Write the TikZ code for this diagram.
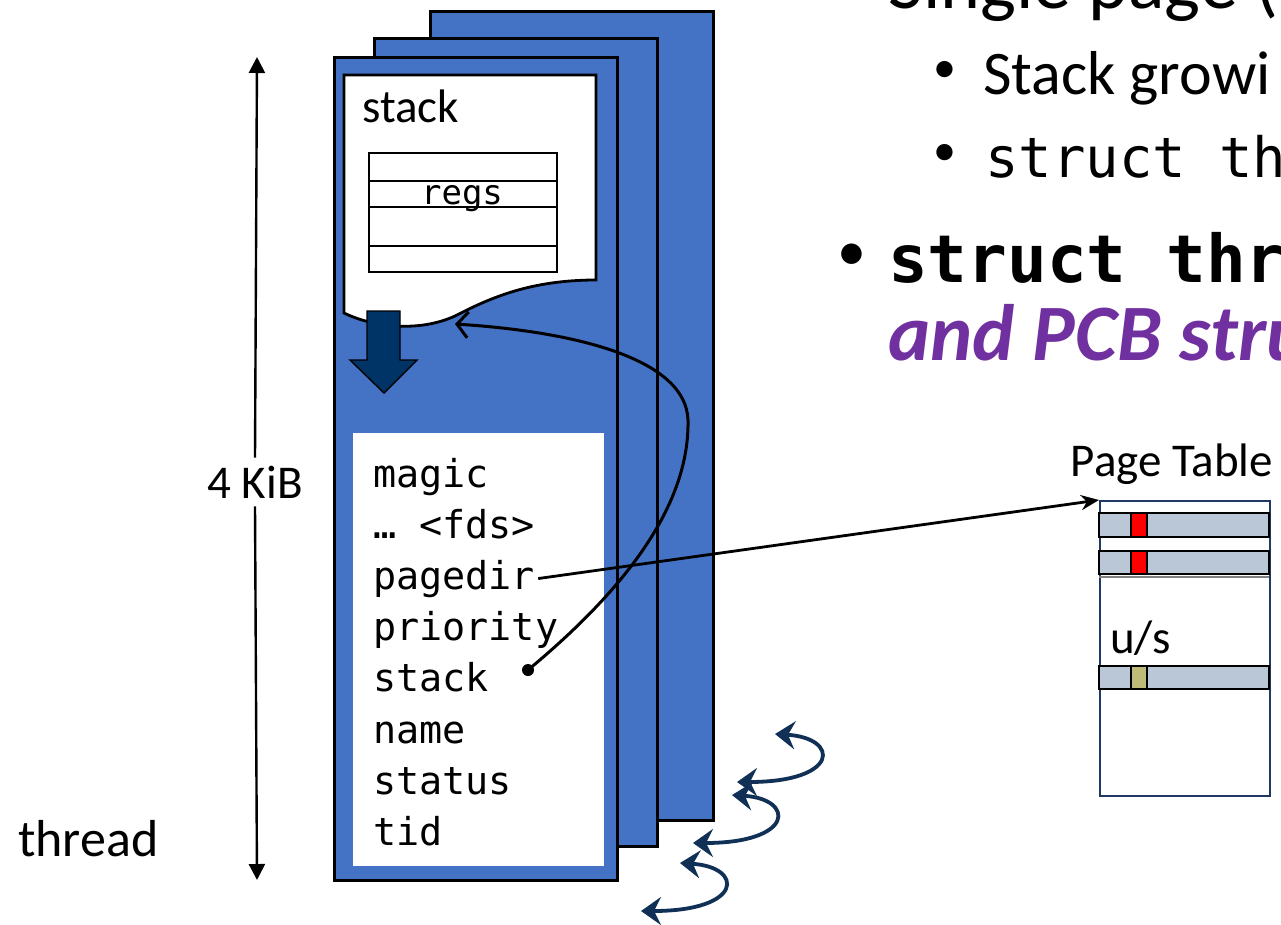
\documentclass[tikz,border=0pt]{standalone}
\usepackage{fontspec}
\setmainfont{Carlito}
\setmonofont{DejaVu Sans Mono}
\usetikzlibrary{arrows.meta,calc}

\definecolor{pageblue}{RGB}{68,114,196}
\definecolor{growarrow}{RGB}{0,51,102}
\definecolor{hooknavy}{RGB}{16,48,86}
\definecolor{ptrow}{RGB}{185,199,214}
\definecolor{ptborder}{RGB}{31,56,100}
\definecolor{usbit}{RGB}{192,186,120}
\definecolor{pcbpurple}{RGB}{112,48,160}

\newcommand{\fsz}[1]{\fontsize{#1}{#1}\selectfont}

\begin{document}
\begin{tikzpicture}[x=1pt,y=-1pt,
  page/.style={draw=black, line width=3pt, fill=pageblue},
  field/.style={anchor=base west, inner sep=0pt, font={\ttfamily\fsz{38.4}}},
  label/.style={inner sep=0pt, font={\fsz{47}}},
  ptrowbox/.style={draw=black, line width=2.4pt, fill=ptrow},
  bitbox/.style={draw=black, line width=1.6pt},
  hook/.style={draw=hooknavy, line width=3.8pt,
    arrows={Stealth[length=20pt,width=28pt,inset=7pt]-Stealth[length=20pt,width=28pt,inset=7pt]}},
  bullet/.style={anchor=center, inner sep=0pt}]

\useasboundingbox (0,0) rectangle (1281,924);
\clip (0,0) rectangle (1281,924);

% stacked thread pages, back to front
\draw[page] (430,11) rectangle (713,820);
\draw[page] (374,38) rectangle (657,846);
\draw[page] (334,57) rectangle (617,880);

% stack region with torn lower edge
\draw[fill=white, line width=2.8pt]
  (344,75) -- (596,75) -- (596,280)
  .. controls (530,280) and (490,298) .. (455,316)
  .. controls (420,332) and (375,328) .. (344,313) -- cycle;
\node[label, anchor=base west] (stacklbl) at (362,122) {stack};

% saved registers frame
\draw[line width=2.6pt] (369,153) rectangle (557,272);
\foreach \yy in {181,207,246} \draw[line width=2.6pt] (369,\yy) -- (557,\yy);
\node[inner sep=0pt, anchor=base, font={\ttfamily\fsz{34}}] (regs) at (462,204) {regs};

% stack growth direction
\draw[fill=growarrow, line width=1.4pt]
  (367,311) -- (400,311) -- (400,360) -- (417,360) -- (384,393)
  -- (350,360) -- (367,360) -- cycle;

% struct thread fields
\fill[white] (353,433) rectangle (604,866);
\node[field] (fmagic)    at (373,487) {magic};
\node[field] (ffds)      at (373,538) {… <fds>};
\node[field] (fpagedir)  at (373,589) {pagedir};
\node[field] (fpriority) at (373,640) {priority};
\node[field] (fstack)    at (373,691) {stack};
\node[field] (fname)     at (373,743) {name};
\node[field] (fstatus)   at (373,794) {status};
\node[field] (ftid)      at (373,845) {tid};

% size dimension
\node[label] (kib) at (255,482) {4 KiB};
\coordinate (dimtop) at (257,57);
\coordinate (dimbot) at (257,880);
\draw[line width=2.4pt, -{Triangle[length=16pt,width=16pt]}] (kib.north) ++(0,-8) -- (dimtop);
\draw[line width=2.4pt, -{Triangle[length=16pt,width=16pt]}] (kib.south) ++(0,8) -- (dimbot);
\node[inner sep=0pt, anchor=base west, font={\fsz{52}}] (threadlbl) at (18,856) {thread};

% page table
\node[draw=ptborder, line width=2.4pt, anchor=north west, inner sep=0pt,
      minimum width=170pt, minimum height=295pt] (pt) at (1099,500) {};
\node[label, anchor=base] (ptlbl) at (1172,476) {Page Table};
\draw[ptrowbox] (1099,513) rectangle (1269,537);
\draw[ptrowbox] (1099,551) rectangle (1269,574);
\draw[gray, line width=1.2pt] (1099,577) -- (1269,577);
\draw[ptrowbox] (1099,666) rectangle (1269,689);
\draw[bitbox, fill=red] (1131,513) rectangle (1147,537);
\draw[bitbox, fill=red] (1131,551) rectangle (1147,574);
\draw[bitbox, fill=usbit] (1131,666) rectangle (1147,689);
\node[label, anchor=base west] (uslbl) at (1110,653) {u/s};

% pointers out of the thread struct
\draw[line width=2.8pt, -{Stealth[length=18pt,width=15pt]}]
  ($(fpagedir.east)+(3,0)$) -- (pt.north west);
\node[circle, fill=black, inner sep=0pt, minimum size=12pt] (sdot) at (528,670) {};
\coordinate (stacktip) at (455,324);
\draw[line width=3pt, -{Straight Barb[length=11pt,width=26pt]}]
  (sdot.center) .. controls (600,610) and (690,520) .. (688,420)
  .. controls (686,360) and (580,332) .. (stacktip);

% more threads
\coordinate (h1u) at (775,734); \coordinate (h1l) at (737,782);
\coordinate (h2u) at (732,795); \coordinate (h2l) at (693,843);
\coordinate (h3u) at (680,863); \coordinate (h3l) at (641,911);
\draw[hook] (h1u) .. controls (840,738) and (840,782) .. (h1l);
\draw[hook] (h2u) .. controls (795,799) and (795,843) .. (h2l);
\draw[hook] (h3u) .. controls (744,867) and (744,911) .. (h3l);

% slide text
\node[inner sep=0pt, anchor=base west, font={\fsz{76}}] (t1) at (888,8) {Single page (};
\node[bullet, font={\fsz{46}}] (b2) at (945,72) {•};
\node[inner sep=0pt, anchor=base west, font={\fsz{62}}] (t2) at (983,94) {Stack growi};
\node[bullet, font={\fsz{46}}] (b3) at (945,155) {•};
\node[inner sep=0pt, anchor=base west, font={\ttfamily\fsz{55.6}}] (t3) at (985,177) {struct th};
\node[bullet, font={\fsz{58}}] (b4) at (852,257) {•};
\node[inner sep=0pt, anchor=base west, font={\ttfamily\bfseries\fsz{66}}] (t4) at (888,282) {struct thr};
\node[inner sep=0pt, anchor=base west, text=pcbpurple, font={\bfseries\itshape\fsz{80}}] (t5) at (888,360) {and PCB struc};

\end{tikzpicture}
\end{document}
